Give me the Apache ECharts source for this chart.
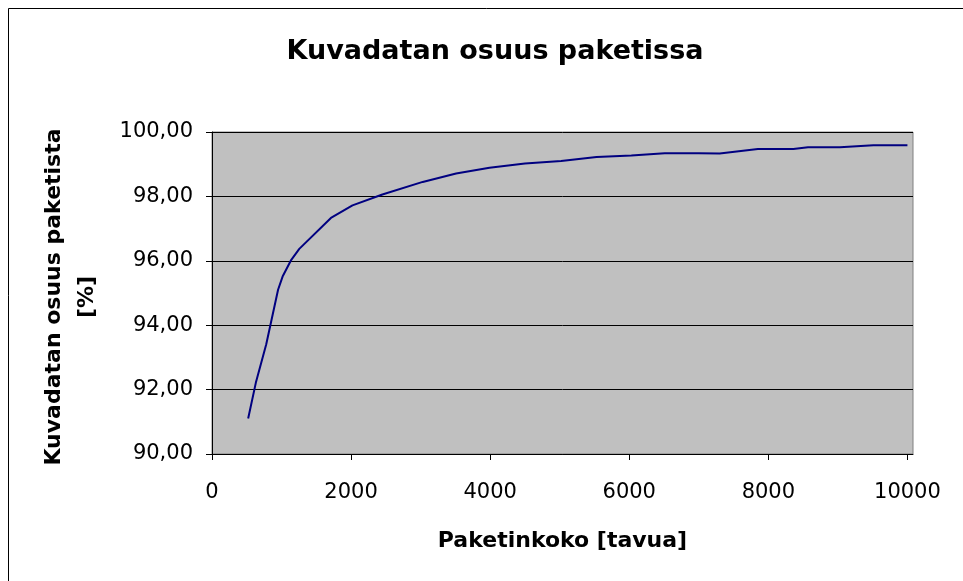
<!DOCTYPE html>
<html>
<head>
<meta charset="utf-8">
<script src="https://cdn.jsdelivr.net/npm/echarts@6/dist/echarts.min.js"></script>
<style>
html,body{margin:0;padding:0;background:#fff;overflow:hidden;}
#chart{width:963px;height:581px;}
</style>
</head>
<body>
<div id="chart"></div>
<script>
// Packet size [bytes]
var packetSize = [520, 630, 780, 950, 1015, 1140, 1255, 1710, 2020, 2450, 3030, 3510, 3990, 4500, 5020, 5530, 6030, 6510, 7000, 7300, 7850, 8140, 8360, 8570, 9030, 9510, 10000];
// Share of image data in packet [%]
var imageShare = [91.10, 92.21, 93.41, 95.10, 95.51, 96.03, 96.37, 97.33, 97.72, 98.06, 98.45, 98.71, 98.89, 99.02, 99.10, 99.22, 99.27, 99.34, 99.34, 99.33, 99.47, 99.47, 99.47, 99.53, 99.53, 99.59, 99.59];
var xTicks = [0, 2000, 4000, 6000, 8000, 10000];
var yTicks = [90, 92, 94, 96, 98, 100];

var titleText = 'Kuvadatan osuus paketissa';
var xName = 'Paketinkoko [tavua]';
var yName = 'Kuvadatan osuus paketista\n[%]';

var FONT = 'DejaVu Sans';
var points = packetSize.map(function (x, i) { return [x, imageShare[i]]; });

var chart = echarts.init(document.getElementById('chart'), null, {renderer: 'canvas'});
chart.setOption({
  backgroundColor: '#ffffff',
  animation: false,
  graphic: [{
    type: 'rect',
    shape: {x: 8.5, y: 8.5, width: 1200, height: 1200},
    style: {fill: 'none', stroke: '#000000', lineWidth: 1},
    silent: true,
    z: -10
  }],
  title: {
    text: titleText,
    left: 490,
    top: 33,
    textAlign: 'center',
    textStyle: {fontFamily: FONT, fontSize: 27, fontWeight: 'bold', color: '#000000'}
  },
  grid: {
    left: 212, right: 50, top: 132, bottom: 127,
    show: true,
    backgroundColor: '#C0C0C0',
    borderColor: '#808080',
    borderWidth: 1
  },
  xAxis: {
    type: 'value',
    min: 0,
    max: 10080,
    interval: 2000,
    name: xName,
    nameLocation: 'middle',
    nameGap: 76,
    nameTextStyle: {fontFamily: FONT, fontSize: 22, fontWeight: 'bold', color: '#000000'},
    axisLine: {show: true, lineStyle: {color: '#000000', width: 1}},
    axisTick: {show: true, inside: false, length: 6, customValues: xTicks, lineStyle: {color: '#000000'}},
    axisLabel: {
      customValues: xTicks,
      margin: 28,
      fontFamily: FONT, fontSize: 21, color: '#000000',
      formatter: function (v) { return String(v); }
    },
    splitLine: {show: false}
  },
  yAxis: {
    type: 'value',
    min: 90,
    max: 100,
    interval: 2,
    name: yName,
    nameLocation: 'middle',
    nameRotate: 90,
    nameGap: 108,
    nameTextStyle: {fontFamily: FONT, fontSize: 22, fontWeight: 'bold', color: '#000000', lineHeight: 33, align: 'center', padding: [0, 8, 0, 0]},
    axisLine: {show: true, lineStyle: {color: '#000000', width: 1}},
    axisTick: {show: true, inside: false, length: 6, lineStyle: {color: '#000000'}},
    axisLabel: {
      margin: 19,
      fontFamily: FONT, fontSize: 21, color: '#000000',
      formatter: function (v) { return v.toFixed(2).replace('.', ','); }
    },
    splitLine: {show: true, lineStyle: {color: '#000000', width: 1}}
  },
  series: [{
    type: 'line',
    data: points,
    showSymbol: false,
    symbol: 'none',
    lineStyle: {color: '#000080', width: 2},
    smooth: false
  }]
});
</script>
</body>
</html>
